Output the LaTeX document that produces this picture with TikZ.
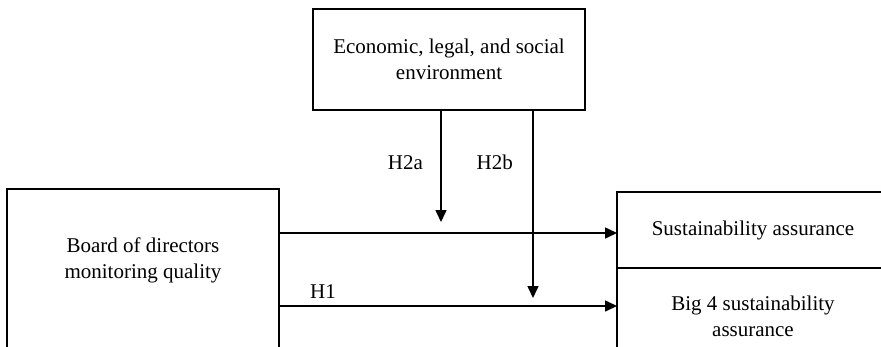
\documentclass[tikz,border=0pt]{standalone}
\usepackage{fontspec}
\setmainfont{Liberation Serif}
\usetikzlibrary{arrows.meta}

\begin{document}
\begin{tikzpicture}[
                x=1pt, y=-1pt,
                box/.style={draw, line width=1.8pt, outer sep=0pt, minimum width=272pt, align=center, font=\fontsize{21}{26}\selectfont},
                txt/.style={align=center, font=\fontsize{21}{26}\selectfont},
                arr/.style={-{Triangle[length=12pt, width=11pt]}, line width=1.6pt},
                lab/.style={font=\fontsize{21}{26}\selectfont}
            ]
                \useasboundingbox (0,0) rectangle (881,346);
                \clip (0,0) rectangle (881,346);

                % Moderator Block
                \node[box, minimum height=101pt] (env) at (449,59.5) {Economic, legal, and social\\environment};

                % Independent Block (runs past the lower edge)
                \node[box, minimum height=200pt, anchor=north] (board) at (143,189) {};
                \node[txt] (boardtext) at (143,260) {Board of directors\\monitoring quality};

                % Outcome Blocks (run past the right edge)
                \node[box, minimum height=76pt] (sa) at (753,230) {Sustainability assurance};
                \node[box, minimum height=96pt, anchor=north] (big) at (sa.south) {Big 4 sustainability\\assurance};

                % Direct Paths
                \draw[arr] ([yshift=-3pt]board.east |- sa.west) -- ([yshift=-3pt]sa.west);
                \draw[arr] ([yshift=10pt]board.east |- big.west) -- node[pos=0.13, above=3pt, lab] (h1) {H1} ([yshift=10pt]big.west);

                % Moderating Paths
                \coordinate (h2aend) at (441,222);
                \coordinate (h2bend) at (533,298);
                \draw[arr] (env.south -| h2aend) -- node[pos=0.47, left=14pt, lab] (h2a) {H2a} (h2aend);
                \draw[arr] (env.south -| h2bend) -- node[pos=0.28, left=16pt, lab] (h2b) {H2b} (h2bend);
            \end{tikzpicture}
\end{document}
